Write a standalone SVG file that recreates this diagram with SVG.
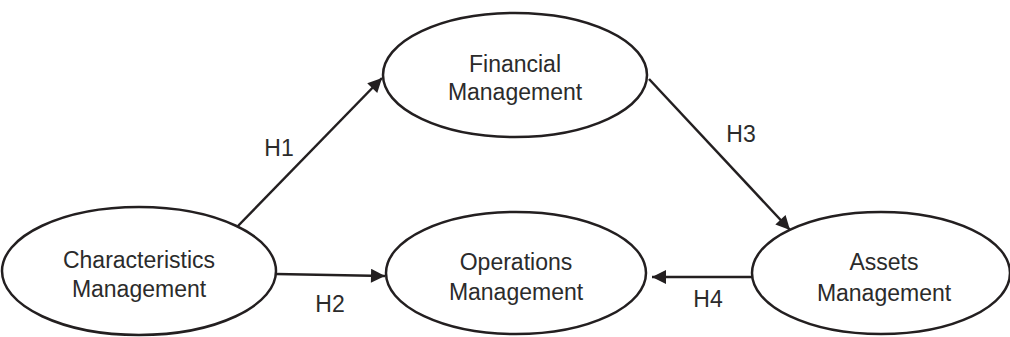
<svg xmlns="http://www.w3.org/2000/svg" width="1010" height="337" viewBox="0 0 1010 337">
  <style>
    .node ellipse { fill: #ffffff; stroke: #231f20; stroke-width: 2.5; }
    .node text, .label { font-family: "Liberation Sans", Arial, sans-serif; font-size: 23px; fill: #2b2b2b; text-anchor: middle; }
    .edge { stroke: #231f20; stroke-width: 2.5; fill: none; marker-end: url(#arrow); }
  </style>
  <defs>
    <marker id="arrow" viewBox="0 0 10 10" refX="10" refY="5" markerWidth="6.4" markerHeight="5.6" orient="auto" markerUnits="strokeWidth">
      <path d="M0,0 L10,5 L0,10 z" fill="#231f20"/>
    </marker>
  </defs>

  <g id="connectors">
    <line class="edge" x1="236" y1="228" x2="382" y2="78"/>
    <line class="edge" x1="276" y1="274" x2="385" y2="276"/>
    <line class="edge" x1="649" y1="79" x2="790" y2="230"/>
    <line class="edge" x1="752" y1="277" x2="652" y2="277"/>
    <text class="label" x="279" y="156">H1</text>
    <text class="label" x="330" y="312">H2</text>
    <text class="label" x="741" y="142">H3</text>
    <text class="label" x="708" y="307">H4</text>
  </g>

  <g id="characteristics" class="node">
    <ellipse cx="139" cy="271" rx="137" ry="64"/>
    <text x="139" y="268">Characteristics</text>
    <text x="139" y="297">Management</text>
  </g>

  <g id="financial" class="node">
    <ellipse cx="515" cy="75" rx="132" ry="62"/>
    <text x="515" y="72">Financial</text>
    <text x="515" y="100">Management</text>
  </g>

  <g id="operations" class="node">
    <ellipse cx="516" cy="273" rx="130" ry="61"/>
    <text x="516" y="270">Operations</text>
    <text x="516" y="300">Management</text>
  </g>

  <g id="assets" class="node">
    <ellipse cx="881" cy="273" rx="129" ry="61"/>
    <text x="884" y="270">Assets</text>
    <text x="884" y="301">Management</text>
  </g>
</svg>
